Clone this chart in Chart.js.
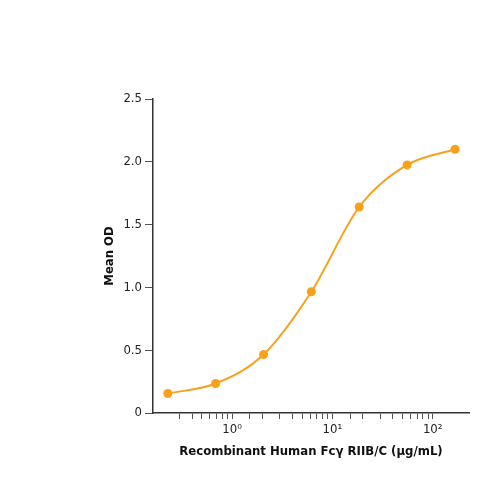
<!DOCTYPE html>
<html>
<head>
<meta charset="utf-8">
<script src="https://cdn.jsdelivr.net/npm/chart.js@4"></script>
<style>
  html, body { margin: 0; padding: 0; background: #fff; }
  #wrap { width: 500px; height: 500px; }
</style>
</head>
<body>
<div id="wrap"><canvas id="chart" width="500" height="500"></canvas></div>
<script>
// concentration (ug/mL) and mean OD
const conc = [0.229, 0.686, 2.06, 6.17, 18.5, 55.6, 167];
const meanOD = [0.155, 0.235, 0.465, 0.965, 1.64, 1.975, 2.1];
const yTicks = [0, 0.5, 1.0, 1.5, 2.0, 2.5];
const sup = { '-1': '⁻¹', '0': '⁰', '1': '¹', '2': '²' };

const orange = '#F7A11A';
const axisColor = '#333';
const fontFam = '"DejaVu Sans Condensed", "Liberation Sans", sans-serif';

const ctx = document.getElementById('chart').getContext('2d');

new Chart(ctx, {
    type: 'line',
    data: {
        datasets: [{
            data: conc.map((c, i) => ({ x: c, y: meanOD[i] })),
            borderColor: orange,
            backgroundColor: orange,
            borderWidth: 2,
            pointRadius: 4.5,
            pointBorderWidth: 0,
            cubicInterpolationMode: 'monotone',
            fill: false
        }]
    },
    options: {
        responsive: false,
        animation: false,
        layout: { padding: { left: 0, top: 99, right: 31, bottom: 0 } },
        plugins: { legend: { display: false }, tooltip: { enabled: false } },
        scales: {
            x: {
                type: 'logarithmic',
                min: 0.163,
                max: 230,
                afterFit: s => { s.height = 87; },
                afterBuildTicks: s => {
                    s.ticks = s.ticks.filter(t => t.value >= 0.195 && t.value <= 101);
                },
                border: { color: axisColor, width: 1.5 },
                grid: { drawOnChartArea: false, drawTicks: true, tickLength: 6, color: '#555', tickWidth: 1 },
                ticks: {
                    autoSkip: false,
                    maxRotation: 0,
                    padding: 3,
                    color: '#222',
                    font: { family: fontFam, size: 13 },
                    callback: v => {
                        const e = Math.log10(v);
                        if (Math.abs(e - Math.round(e)) < 1e-6) return '10' + sup[String(Math.round(e))];
                        return '';
                    }
                },
                title: {
                    display: true,
                    text: 'Recombinant Human Fcγ RIIB/C (μg/mL)',
                    color: '#111',
                    font: { family: fontFam, size: 13, weight: 'bold' },
                    padding: { top: 0, bottom: 41 }
                }
            },
            y: {
                min: 0,
                max: 2.5,
                afterFit: s => { s.width = 153; },
                afterBuildTicks: s => { s.ticks = yTicks.map(v => ({ value: v })); },
                border: { color: axisColor, width: 1.5 },
                grid: { drawOnChartArea: false, drawTicks: true, tickLength: 8, color: '#555' },
                ticks: {
                    padding: 3,
                    color: '#222',
                    font: { family: fontFam, size: 13 },
                    callback: v => v === 0 ? '0' : v.toFixed(1)
                },
                title: {
                    display: true,
                    text: 'Mean OD',
                    color: '#111',
                    font: { family: fontFam, size: 13, weight: 'bold' },
                    padding: { top: 102, bottom: 0 }
                }
            }
        }
    }
});
</script>
</body>
</html>
